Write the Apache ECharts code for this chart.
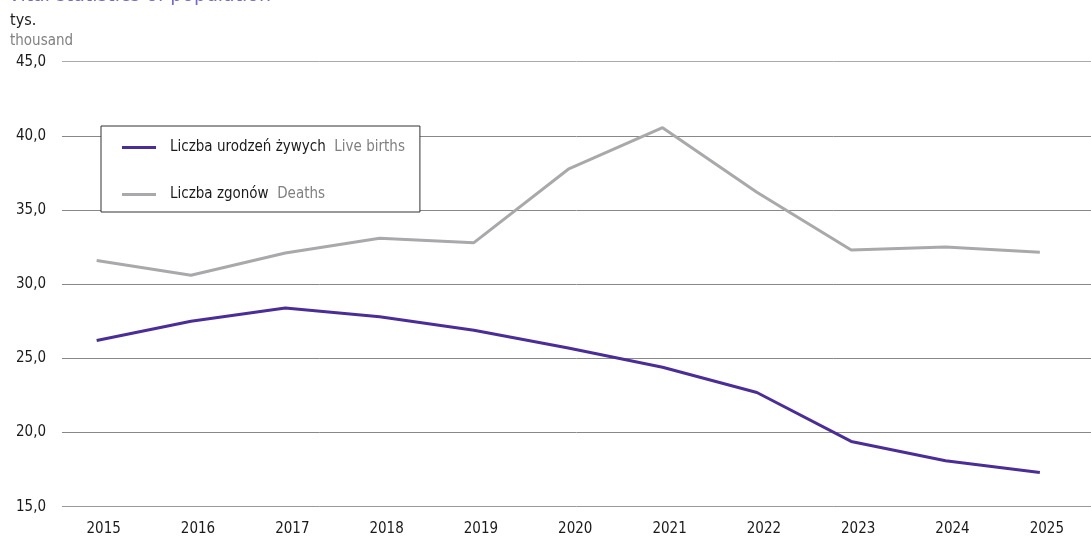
<!DOCTYPE html>
<html>
<head>
<meta charset="utf-8">
<script src="https://cdn.jsdelivr.net/npm/echarts@6/dist/echarts.min.js"></script>
<style>
  html, body { margin: 0; padding: 0; background: #fff; }
  #chart { width: 1091px; height: 546px; }
</style>
</head>
<body>
<div id="chart"></div>
<script>
// ---- data ----
const years = ['2015','2016','2017','2018','2019','2020','2021','2022','2023','2024','2025'];
const liveBirths = [26.2, 27.5, 28.4, 27.8, 26.9, 25.7, 24.4, 22.7, 19.4, 18.1, 17.3];
const deaths     = [31.6, 30.6, 32.1, 33.1, 32.8, 37.75, 40.55, 36.2, 32.3, 32.5, 32.15];
const seriesNamesPL = ['Liczba urodzeń żywych', 'Liczba zgonów'];
const seriesNamesEN = ['Live births', 'Deaths'];
const yTicks = { min: 15, max: 45, interval: 5 };
const titleText = 'Vital statistics of population';
const unitPL = 'tys.';
const unitEN = 'thousand';

const FONT = '"Liberation Sans Narrow", "DejaVu Sans Condensed", "Noto Sans", sans-serif';
const enMap = {};
seriesNamesPL.forEach((n, i) => enMap[n] = seriesNamesEN[i]);

const chart = echarts.init(document.getElementById('chart'), null, { renderer: 'canvas' });
const TOP = 61.7, BOTTOM = 39.3;

chart.setOption({
  animation: false,
  backgroundColor: '#fff',
  textStyle: { fontFamily: FONT },
  title: [
    {
      text: titleText, left: 8, top: -15, padding: 0,
      textStyle: { color: '#7a69c4', fontSize: 21, fontWeight: 'normal', fontFamily: FONT }
    },
    {
      text: unitPL, subtext: unitEN, left: 10, top: 13, padding: 0, itemGap: 5,
      textStyle: { color: '#1a1a1a', fontSize: 16, fontWeight: 'normal', fontFamily: FONT },
      subtextStyle: { color: '#808080', fontSize: 15, fontFamily: FONT }
    }
  ],
  grid: [
    { left: 62, right: 0, top: TOP, bottom: BOTTOM },
    { left: 49.5, right: 4, top: TOP, bottom: BOTTOM }
  ],
  xAxis: [
    { gridIndex: 0, type: 'category', data: years, show: false },
    {
      gridIndex: 1, type: 'category', data: years, boundaryGap: true,
      axisLine: { show: false }, axisTick: { show: false },
      axisLabel: { color: '#1a1a1a', fontSize: 15, margin: 15, padding: [0, 0, 0, 14], fontFamily: FONT }
    }
  ],
  yAxis: [
    {
      gridIndex: 0, type: 'value', min: yTicks.min, max: yTicks.max, interval: yTicks.interval,
      axisLine: { show: false }, axisTick: { show: false },
      axisLabel: {
        color: '#1a1a1a', fontSize: 15, margin: 16, fontFamily: FONT,
        formatter: v => v.toFixed(1).replace('.', ',')
      },
      splitLine: { lineStyle: { color: ['#999', '#888', '#888', '#888', '#888', '#888', '#aaa'], width: 1 } }
    },
    {
      gridIndex: 1, type: 'value', min: yTicks.min, max: yTicks.max, interval: yTicks.interval,
      show: false, splitLine: { show: false }
    }
  ],
  legend: {
    orient: 'vertical', left: 101, top: 126,
    backgroundColor: '#fff', borderColor: '#333', borderWidth: 1, borderRadius: 0,
    padding: [14, 15, 10, 21], itemGap: 32, itemWidth: 34, itemHeight: 3,
    icon: 'rect',
    data: seriesNamesPL,
    formatter: name => '{a|' + name + '}  {b|' + enMap[name] + '}',
    textStyle: {
      fontFamily: FONT, fontSize: 15, padding: [0, 0, 0, 9],
      rich: {
        a: { color: '#1a1a1a', fontSize: 15, lineHeight: 18, fontFamily: FONT },
        b: { color: '#808080', fontSize: 15, lineHeight: 18, fontFamily: FONT }
      }
    }
  },
  series: [
    {
      name: seriesNamesPL[0], type: 'line', xAxisIndex: 1, yAxisIndex: 1,
      data: liveBirths, symbol: 'none', z: 3,
      lineStyle: { color: '#4b2d98', width: 3 }, itemStyle: { color: '#4b2d98' }
    },
    {
      name: seriesNamesPL[1], type: 'line', xAxisIndex: 1, yAxisIndex: 1,
      data: deaths, symbol: 'none', z: 2,
      lineStyle: { color: '#a9a9ab', width: 3 }, itemStyle: { color: '#a9a9ab' }
    }
  ]
});
</script>
</body>
</html>
